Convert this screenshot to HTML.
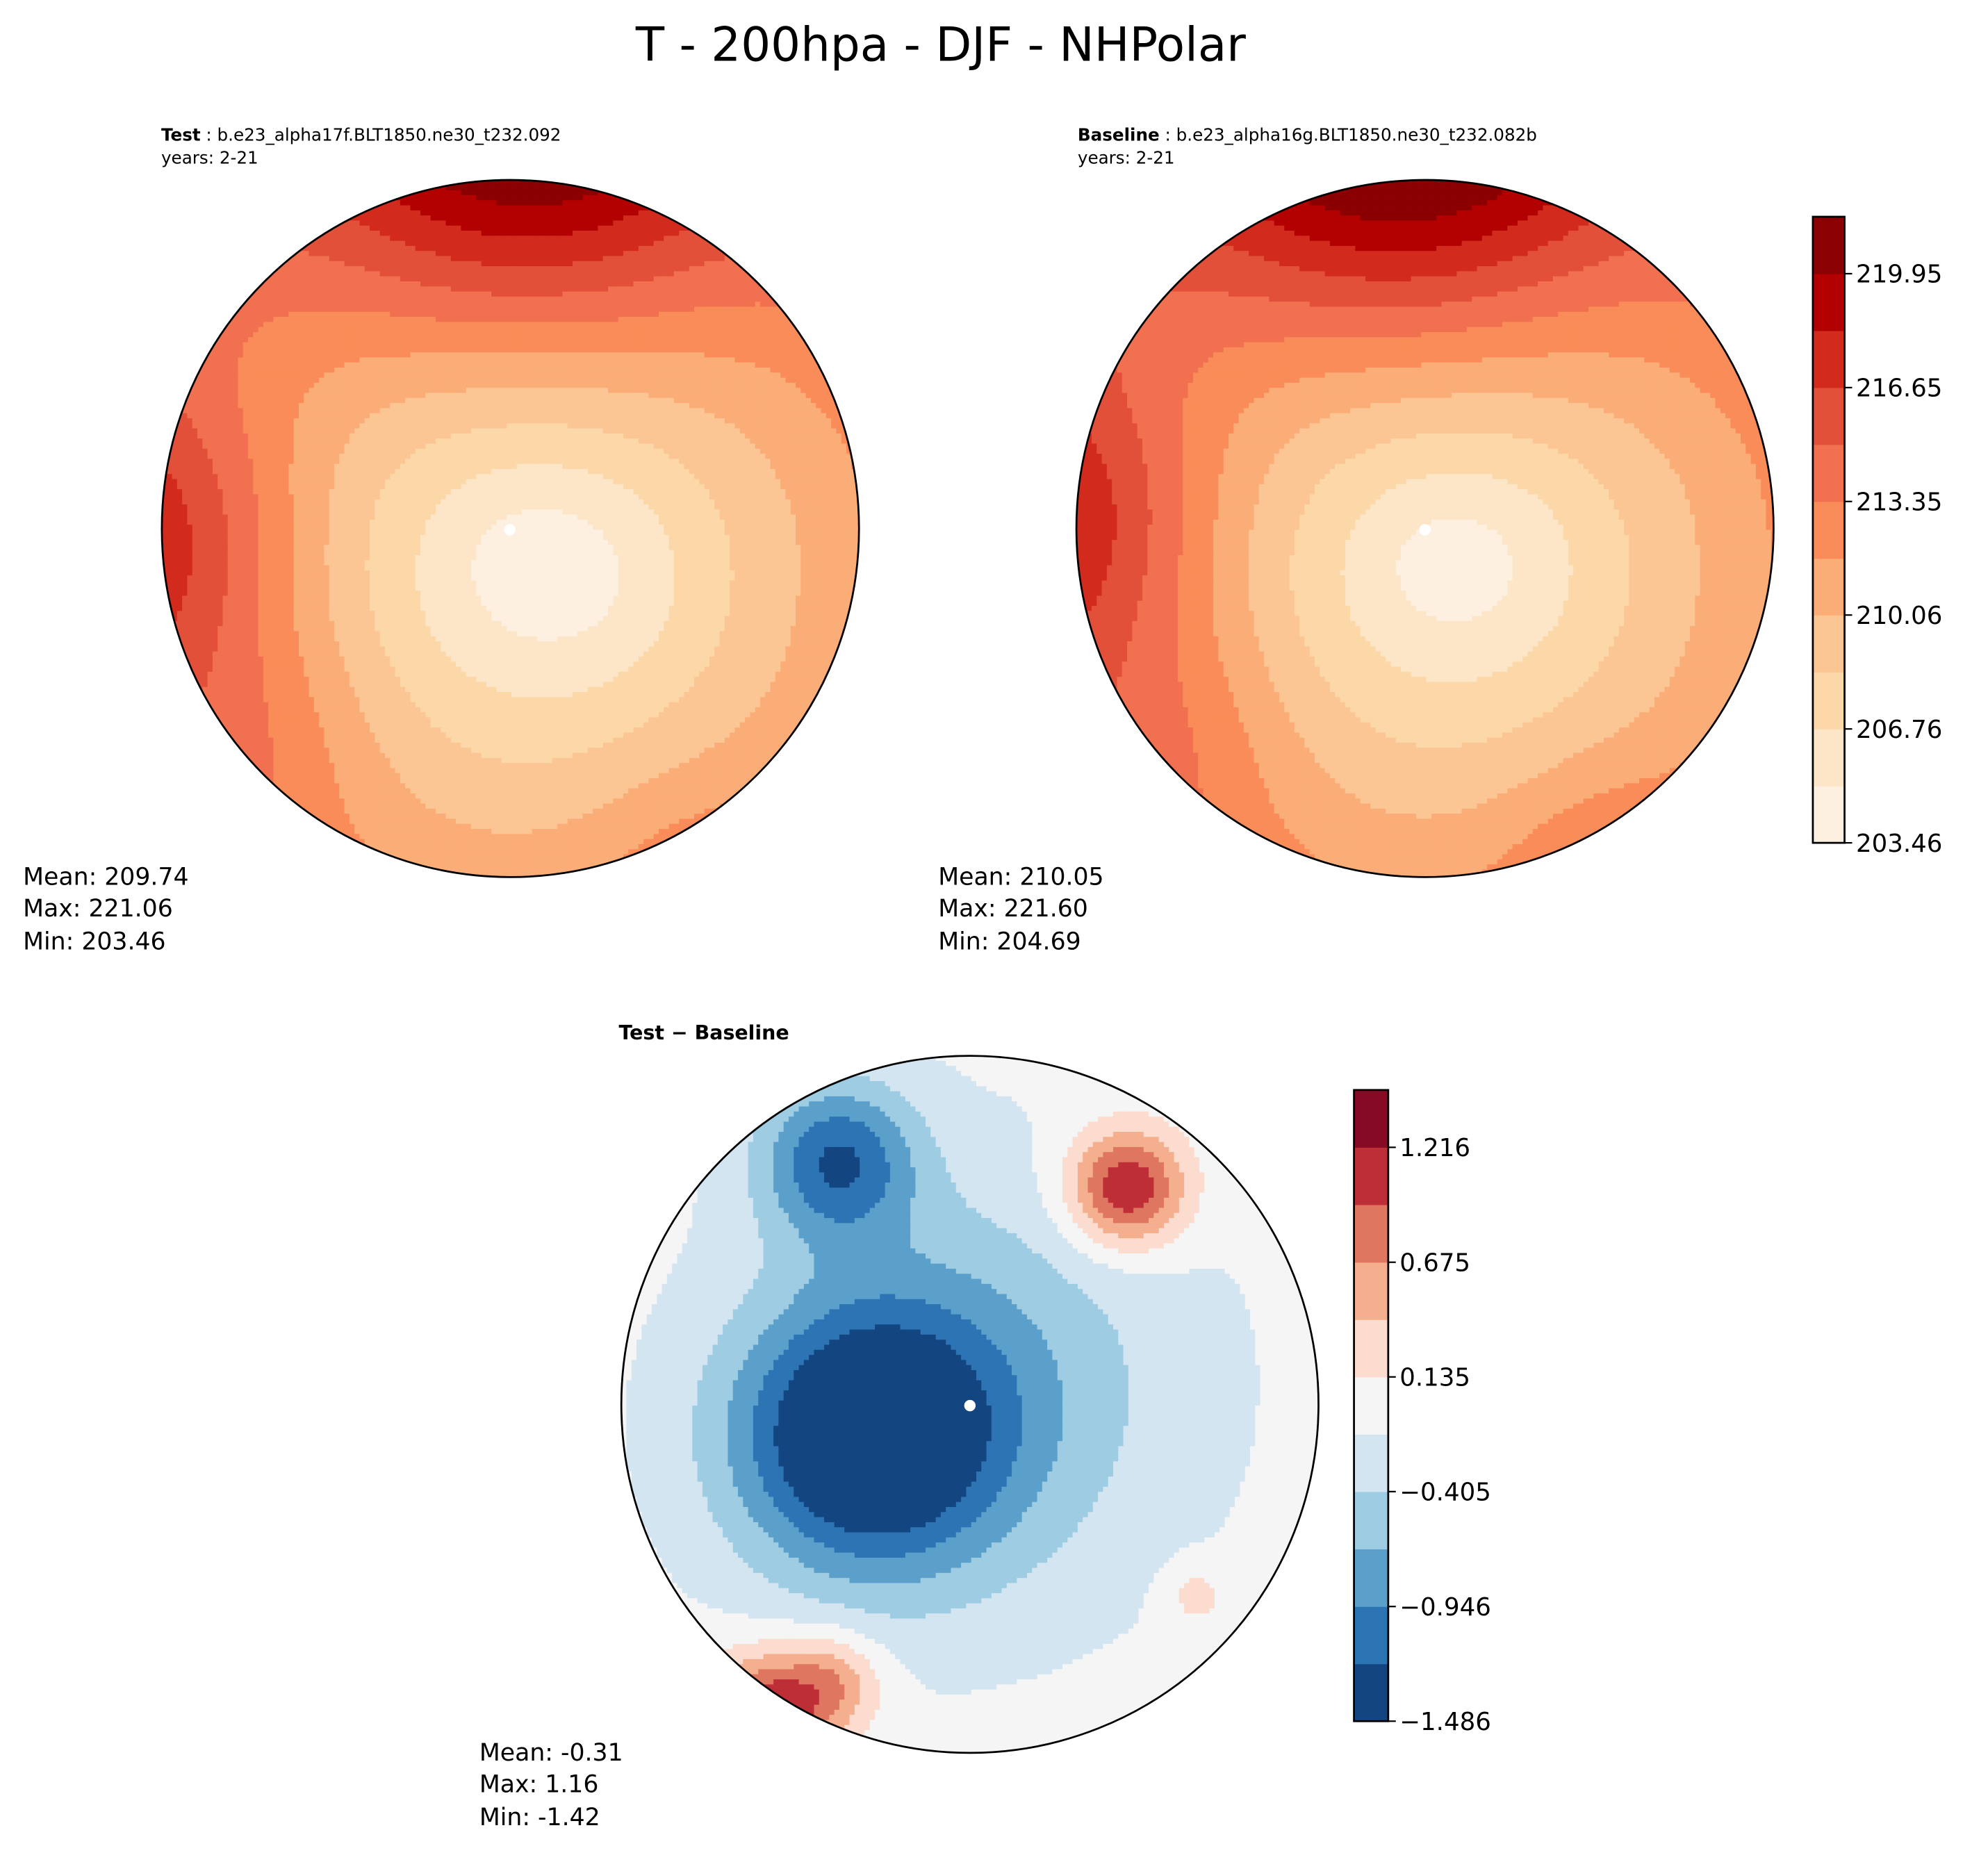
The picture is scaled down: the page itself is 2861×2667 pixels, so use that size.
<!DOCTYPE html>
<html><head><meta charset="utf-8">
<style>
html,body{margin:0;padding:0;background:#fff;}
svg{display:block;}
text{font-family:"DejaVu Sans","Liberation Sans",sans-serif;fill:#000;}
</style></head>
<body>
<svg id="fig" width="2861" height="2667" viewBox="0 0 1568 1462" xmlns="http://www.w3.org/2000/svg">
<defs>
<clipPath id="c1"><circle cx="402.5" cy="417" r="275"/></clipPath>
<clipPath id="c2"><circle cx="1124" cy="417" r="275"/></clipPath>
<clipPath id="c3"><circle cx="765" cy="1108" r="275"/></clipPath>
</defs>
<text x="742" y="48" font-size="37" text-anchor="middle">T - 200hpa - DJF - NHPolar</text>

<text x="127" y="111" font-size="13.5"><tspan font-weight="bold">Test</tspan> : b.e23_alpha17f.BLT1850.ne30_t232.092</text>
<text x="127" y="129" font-size="13.5">years: 2-21</text>
<text x="850" y="111" font-size="13.5"><tspan font-weight="bold">Baseline</tspan> : b.e23_alpha16g.BLT1850.ne30_t232.082b</text>
<text x="850" y="129" font-size="13.5">years: 2-21</text>
<text x="488" y="820" font-size="15.6" font-weight="bold">Test − Baseline</text>

<g id="map1" clip-path="url(#c1)"></g>
<g id="map2" clip-path="url(#c2)"></g>
<g id="map3" clip-path="url(#c3)"></g>
<circle cx="402.5" cy="417" r="275" fill="none" stroke="#000" stroke-width="1.5"/>
<circle cx="1124" cy="417" r="275" fill="none" stroke="#000" stroke-width="1.5"/>
<circle cx="765" cy="1108" r="275" fill="none" stroke="#000" stroke-width="1.5"/>
<circle cx="402" cy="418" r="4.5" fill="#fff"/>
<circle cx="1124" cy="418" r="4.5" fill="#fff"/>
<circle cx="765" cy="1109" r="4.5" fill="#fff"/>

<g id="cb1"></g>
<g id="cb2"></g>

<g font-size="19">
<text x="18" y="698">Mean: 209.74</text><text x="18" y="723">Max: 221.06</text><text x="18" y="749">Min: 203.46</text></g>
<g font-size="19">
<text x="740" y="698">Mean: 210.05</text><text x="740" y="723">Max: 221.60</text><text x="740" y="749">Min: 204.69</text></g>
<g font-size="19">
<text x="378" y="1389">Mean: -0.31</text><text x="378" y="1414">Max:  1.16</text><text x="378" y="1440">Min: -1.42</text></g>
</svg>
<script>
const NS="http://www.w3.org/2000/svg";
// colorbar data
const absLevels=[203.46,205.11,206.76,208.41,210.06,211.70,213.35,215.00,216.65,218.30,219.95,221.60];
const absTicks=["203.46","206.76","210.06","213.35","216.65","219.95"];
const absColors=["#fdf0e0","#fde6c8","#fcd8a8","#fcc594","#fbad78","#fa8c59","#f07050","#e3503a","#d22a1c","#b30000","#8b0000"];
const diffLevels=[-1.486,-1.216,-0.946,-0.675,-0.405,-0.135,0.135,0.405,0.675,0.946,1.216,1.486];
const diffTicks=["\u22121.486","\u22120.946","\u22120.405","0.135","0.675","1.216"];
const diffColors=["#134580","#2c74b4","#5aa0ca","#9ecce2","#d3e5f1","#f5f5f5","#fcdcce","#f4af8e","#df7660","#bd2e37","#870a24"];
// field anomaly centres (normalized map coords): [u, v, amplitude, width]
const testWarm=[[0.05,-1.15,9.0,0.4],[-1.05,0.05,5.5,0.2],[-0.7,0.6,1.8,0.12],[0.5,0.95,1.2,0.08],[0.25,0.15,-1.0,0.08]];
const baseWarm=[[-0.05,-1.15,9.5,0.4],[-1.05,0.0,5.5,0.2],[-0.7,0.6,1.8,0.12],[0.5,0.95,1.8,0.08],[0.2,0.1,-0.8,0.08]];
const diffCx=[-0.3,0.0,0.45,-0.6,-0.4,-0.38,0.65];
const diffCy=[0.1,-0.05,-0.62,0.9,0.8,-0.7,0.55];
const diffAmp=[-1.5,-0.6,1.35,1.3,0.7,-1.1,0.35];
const diffW=[0.14,0.35,0.028,0.03,0.02,0.05,0.008];

function absField(u,v,offset,warm){
  let du=u-0.05,dv=v-0.1;
  let d=Math.sqrt(du*du+dv*dv);
  let t=203.8+offset+8.0*d;
  for(const w of warm){const a=u-w[0],b=v-w[1];t+=w[2]*Math.exp(-(a*a+b*b)/w[3]);}
  return t;
}
function diffField(u,v){
  let d=-0.05;
  for(let i=0;i<diffCx.length;i++){const a=u-diffCx[i],b=v-diffCy[i];d+=diffAmp[i]*Math.exp(-(a*a+b*b)/diffW[i]);}
  return d;
}
function colorFor(val,levels,colors){
  for(let i=0;i<colors.length;i++){if(val<levels[i+1])return colors[i];}
  return colors[colors.length-1];
}
function drawMap(gid,cx,cy,r,fn,levels,colors){
  const g=document.getElementById(gid);
  const step=4;
  for(let y=cy-r;y<cy+r;y+=step){
    for(let x=cx-r;x<cx+r;x+=step){
      const u=(x+step/2-cx)/r,v=(y+step/2-cy)/r;
      if(u*u+v*v>1.06)continue;
      const rc=document.createElementNS(NS,"rect");
      
      
      rc.setAttribute("x",x);rc.setAttribute("y",y);
      rc.setAttribute("width",step+0.6);rc.setAttribute("height",step+0.6);
      rc.setAttribute("fill",colorFor(fn(u,v),levels,colors));
      g.appendChild(rc);
    }
  }
}
drawMap("map1",402.5,417,275,(u,v)=>absField(u,v,0,testWarm),absLevels,absColors);
drawMap("map2",1124,417,275,(u,v)=>absField(u,v,0.35,baseWarm),absLevels,absColors);
drawMap("map3",765,1108,275,diffField,diffLevels,diffColors);

function drawBar(gid,x,top,bot,w,levels,colors,ticks){
  const g=document.getElementById(gid);
  const lo=levels[0],hi=levels[levels.length-1];
  const ys=v=>bot-(v-lo)/(hi-lo)*(bot-top);
  for(let i=0;i<colors.length;i++){
    const rc=document.createElementNS(NS,"rect");
    
    
    rc.setAttribute("x",x);rc.setAttribute("y",ys(levels[i+1]));
    rc.setAttribute("width",w);rc.setAttribute("height",ys(levels[i])-ys(levels[i+1])+0.3);
    rc.setAttribute("fill",colors[i]);g.appendChild(rc);
  }
  const fr=document.createElementNS(NS,"rect");
  
  
  fr.setAttribute("x",x);fr.setAttribute("y",top);fr.setAttribute("width",w);fr.setAttribute("height",bot-top);
  fr.setAttribute("fill","none");fr.setAttribute("stroke","#000");fr.setAttribute("stroke-width","1.5");g.appendChild(fr);
  for(let k=0;k<ticks.length;k++){
    const yy=ys(levels[2*k]);
    const ln=document.createElementNS(NS,"line");
    
    
    ln.setAttribute("x1",x+w);ln.setAttribute("x2",x+w+6);ln.setAttribute("y1",yy);ln.setAttribute("y2",yy);
    ln.setAttribute("stroke","#000");ln.setAttribute("stroke-width","1.2");g.appendChild(ln);
    const t=document.createElementNS(NS,"text");
    
    
    t.setAttribute("x",x+w+9);t.setAttribute("y",yy+7);t.setAttribute("font-size","19.5");
    t.textContent=ticks[k];g.appendChild(t);
  }
}
drawBar("cb1",1430,171,665,25,absLevels,absColors,absTicks);
drawBar("cb2",1068,860,1358,27,diffLevels,diffColors,diffTicks);
</script>
</body></html>
